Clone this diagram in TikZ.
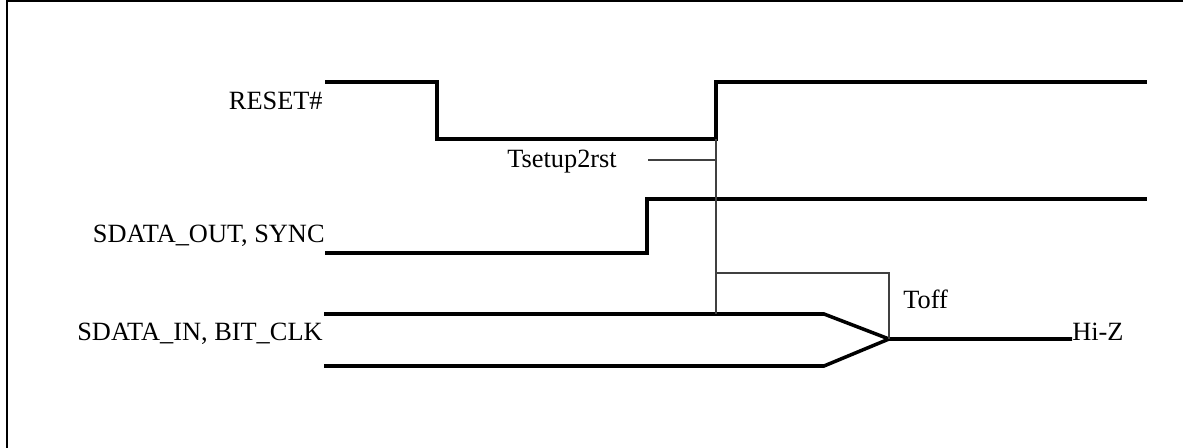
\documentclass[tikz,border=0pt]{standalone}
\usepackage{fontspec}
\setmainfont{Liberation Serif}
\usetikzlibrary{calc,positioning}

\begin{document}
\begin{tikzpicture}[x=0.02cm,y=-0.02cm]
    \tikzstyle{sig}=[line width=2pt]
    \tikzstyle{guide}=[line width=0.7pt, black!75]
    \tikzstyle{lbl}=[font=\fontsize{15}{18}\selectfont, inner sep=0pt]

    \useasboundingbox (0,0) rectangle (1183,448);
    \draw[line width=1.5pt] (7,448) -- (7,1) -- (1183,1);

    % signal names
    \node[lbl, anchor=base east] (reset) at (323,110) {RESET\#};
    \node[lbl, anchor=base east] (sdout) at (325,243) {SDATA\_OUT, SYNC};
    \node[lbl, anchor=base east] (sdin)  at (323,341) {SDATA\_IN, BIT\_CLK};

    % key points
    \coordinate (rstlow) at (716,139);
    \coordinate (rsthigh) at (716,82);
    \coordinate (inhigh) at (716,314);
    \coordinate (cross) at (889,339);
    \coordinate (hiz) at (1072,339);

    % waveforms
    \draw[sig] (325,82) -- (437,82) -- (437,139) -- (rstlow) -- (rsthigh) -- (1147,82);
    \draw[sig] (325,253) -- (647,253) -- (647,199) -- (1147,199);
    \draw[sig] (324,314) -- (824,314) -- (cross) -- (hiz);
    \draw[sig] (324,366) -- (824,366) -- (cross);

    % timing marks
    \node[lbl, anchor=base west] (tsetup) at (507,168) {Tsetup2rst};
    \coordinate (ts) at (648,160);
    \draw[guide] (ts) -- (rstlow |- ts);
    \draw[guide] (rstlow) -- (inhigh);
    \draw[guide] (716,273) -- (cross |- 0,273) -- (cross);
    \node[lbl, anchor=base west] (toff) at (903,309) {Toff};
    \node[lbl, anchor=base west] (hizlbl) at (hiz |- 0,341) {Hi-Z};
\end{tikzpicture}
\end{document}
